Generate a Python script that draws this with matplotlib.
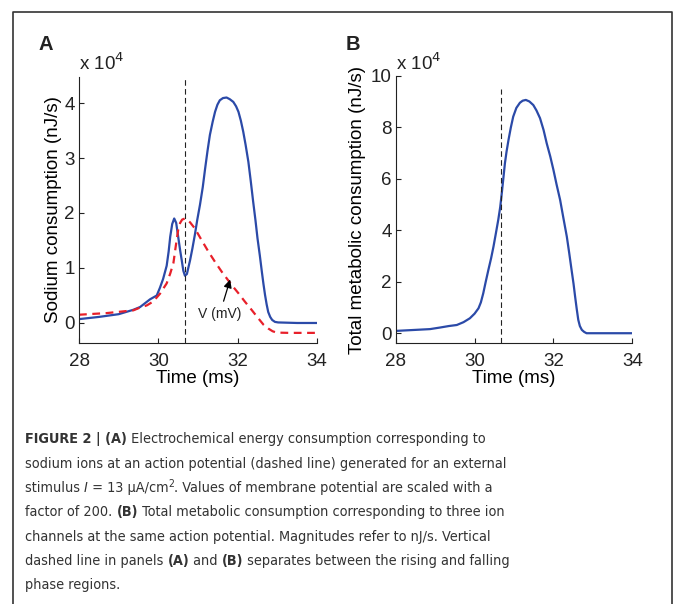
import numpy as np
import matplotlib.pyplot as plt
from matplotlib import font_manager as fm
from matplotlib.lines import Line2D

# --- data (consumption in units of 1e4 nJ/s) ---
t_na = [28.0, 28.5, 29.0, 29.37, 29.54, 29.79, 29.96, 30.04, 30.12, 30.21, 30.26,
        30.30, 30.35, 30.40, 30.45, 30.50, 30.55, 30.59, 30.63, 30.67, 30.72, 30.80,
        30.86, 30.92, 30.98, 31.05, 31.12, 31.18, 31.24, 31.30, 31.37, 31.43, 31.49,
        31.55, 31.63, 31.72, 31.80, 31.89, 31.96, 32.02, 32.08, 32.14, 32.20, 32.27,
        32.33, 32.39, 32.45, 32.50, 32.56, 32.61, 32.65, 32.69, 32.73, 32.77, 32.82,
        32.87, 32.94, 33.02, 33.5, 34.0]
na = [0.07, 0.11, 0.16, 0.24, 0.29, 0.43, 0.50, 0.64, 0.80, 1.04, 1.30,
      1.57, 1.80, 1.90, 1.82, 1.57, 1.32, 1.14, 0.95, 0.86, 0.89, 1.14,
      1.36, 1.60, 1.87, 2.15, 2.47, 2.81, 3.13, 3.42, 3.66, 3.84, 3.97,
      4.05, 4.09, 4.10, 4.07, 4.02, 3.94, 3.84, 3.68, 3.48, 3.24, 2.93,
      2.58, 2.21, 1.86, 1.54, 1.22, 0.93, 0.71, 0.51, 0.34, 0.20, 0.11,
      0.055, 0.02, 0.01, 0.0, 0.0]

t_v = [28.0, 28.7, 29.37, 29.54, 29.71, 29.87, 30.04, 30.21, 30.30, 30.38, 30.44,
       30.50, 30.55, 30.60, 30.67, 30.74, 30.80, 30.92, 31.08, 31.26, 31.43, 31.60,
       31.85, 32.02, 32.18, 32.35, 32.52, 32.65, 32.77, 32.88, 32.98, 33.3, 34.0]
v = [0.15, 0.18, 0.23, 0.28, 0.32, 0.39, 0.53, 0.72, 0.90, 1.09, 1.40,
     1.69, 1.82, 1.88, 1.90, 1.87, 1.83, 1.72, 1.52, 1.30, 1.11, 0.93,
     0.69, 0.54, 0.39, 0.24, 0.085, -0.03, -0.10, -0.15, -0.175, -0.18, -0.18]

t_tot = [28.0, 28.5, 28.87, 29.12, 29.35, 29.55, 29.72, 29.88, 30.00, 30.10, 30.16,
         30.22, 30.28, 30.35, 30.42, 30.48, 30.54, 30.60, 30.65, 30.69, 30.73, 30.77,
         30.81, 30.86, 30.92, 30.98, 31.06, 31.15, 31.22, 31.30, 31.39, 31.49, 31.57,
         31.66, 31.75, 31.83, 31.92, 32.00, 32.08, 32.17, 32.25, 32.34, 32.40, 32.46,
         32.51, 32.55, 32.59, 32.63, 32.67, 32.72, 32.78, 32.84, 33.0, 33.5, 34.0]
tot = [0.09, 0.13, 0.16, 0.22, 0.28, 0.32, 0.43, 0.58, 0.76, 0.97, 1.20,
       1.55, 1.98, 2.46, 2.92, 3.37, 3.88, 4.40, 4.90, 5.44, 6.02, 6.61,
       7.05, 7.51, 8.00, 8.42, 8.76, 8.96, 9.04, 9.07, 9.01, 8.87, 8.66,
       8.36, 7.90, 7.38, 6.87, 6.35, 5.78, 5.18, 4.50, 3.75, 3.12, 2.46,
       1.92, 1.42, 0.95, 0.52, 0.28, 0.13, 0.05, 0.0, 0.0, 0.0, 0.0]

t_split = 30.68     # rising / falling separation (ms)
split_top_b = 9.5   # top of the dashed line in panel B

xticks = [28, 30, 32, 34]
yticks_a = [0, 1, 2, 3, 4]
yticks_b = [0, 2, 4, 6, 8, 10]

BLUE = '#2b4aa8'
RED = '#e8202a'
INK = '#222222'

plt.rcParams['font.family'] = ['Liberation Sans', 'DejaVu Sans']
plt.rcParams['text.color'] = INK
plt.rcParams['axes.edgecolor'] = INK

W, H = 673, 604
fig = plt.figure(figsize=(W / 100, H / 100), dpi=100)


def fx(px):
    return px / W


def fy(py):
    return 1 - py / H


def style_axes(ax, yticks):
    for s in ('top', 'right'):
        ax.spines[s].set_visible(False)
    ax.set_xlim(28, 34)
    ax.set_xticks(xticks)
    ax.set_yticks(yticks)
    ax.tick_params(direction='in', length=3.5, width=0.8, labelsize=13.5, colors=INK)
    ax.tick_params(axis='x', pad=7)
    ax.tick_params(axis='y', pad=3)
    ax.set_xlabel('Time (ms)', fontsize=13.5, labelpad=0)


# panel A
axA = fig.add_axes([fx(79), fy(343), fx(317) - fx(79), fy(77) - fy(343)])
axA.plot(t_na, na, color=BLUE, lw=1.6, solid_joinstyle='round')
axA.plot(t_v, v, color=RED, lw=1.6, dashes=(3.5, 2.5))
axA.axvline(t_split, color=INK, lw=0.8, dashes=(5, 3))
axA.set_ylim(-0.364, 4.473)
style_axes(axA, yticks_a)
axA.set_ylabel('Sodium consumption (nJ/s)', fontsize=13.5, labelpad=2)
axA.annotate('V (mV)', xy=(31.81, 0.79), xytext=(31.55, 0.17),
             ha='center', va='center', fontsize=10, color=INK,
             arrowprops=dict(arrowstyle='-|>', color='black', lw=0.9,
                             mutation_scale=12, shrinkA=2, shrinkB=0))

# panel B
axB = fig.add_axes([fx(395.7), fy(343), fx(632.3) - fx(395.7), fy(76) - fy(343)])
axB.plot(t_tot, tot, color=BLUE, lw=1.6, solid_joinstyle='round')
axB.plot([t_split, t_split], [-0.38, split_top_b], color=INK, lw=0.8, dashes=(5, 3))
axB.set_ylim(-0.38, 10)
style_axes(axB, yticks_b)
axB.set_ylabel('Total metabolic consumption (nJ/s)', fontsize=13.5, labelpad=3.5)

# multiplier labels and panel letters
fig.text(fx(79), fy(70), r'x 10$^{4}$', fontsize=13.5, ha='left', va='baseline')
fig.text(fx(396), fy(70), r'x 10$^{4}$', fontsize=13.5, ha='left', va='baseline')
fig.text(fx(46), fy(44), 'A', fontsize=14.5, weight='bold', ha='center', va='center')
fig.text(fx(353), fy(44), 'B', fontsize=14.5, weight='bold', ha='center', va='center')

# frame around the figure (open at the bottom)
fig.add_artist(Line2D([fx(13), fx(13), fx(672), fx(672)], [0, fy(12), fy(12), 0],
                      transform=fig.transFigure, color='#333333', lw=1.2))

# caption: pick a narrow face if one is installed
entries = fm.fontManager.ttflist
if any(f.name == 'Liberation Sans Narrow' for f in entries):
    cap_family, cap_stretch = 'Liberation Sans Narrow', 'normal'
elif any(f.name == 'DejaVu Sans' and f.stretch == 'condensed' for f in entries):
    cap_family, cap_stretch = 'DejaVu Sans', 'condensed'
else:
    cap_family, cap_stretch = 'Liberation Sans', 'normal'

caption = [
    [('FIGURE 2 | (A)', 'bold', 'normal', 0),
     (' Electrochemical energy consumption corresponding to', 'normal', 'normal', 0)],
    [('sodium ions at an action potential (dashed line) generated for an external',
      'normal', 'normal', 0)],
    [('stimulus ', 'normal', 'normal', 0), ('I', 'normal', 'italic', 0),
     (' = 13 \u03bcA/cm', 'normal', 'normal', 0), ('2', 'normal', 'normal', 1),
     ('. Values of membrane potential are scaled with a', 'normal', 'normal', 0)],
    [('factor of 200. ', 'normal', 'normal', 0), ('(B)', 'bold', 'normal', 0),
     (' Total metabolic consumption corresponding to three ion', 'normal', 'normal', 0)],
    [('channels at the same action potential. Magnitudes refer to nJ/s. Vertical',
      'normal', 'normal', 0)],
    [('dashed line in panels ', 'normal', 'normal', 0), ('(A)', 'bold', 'normal', 0),
     (' and ', 'normal', 'normal', 0), ('(B)', 'bold', 'normal', 0),
     (' separates between the rising and falling', 'normal', 'normal', 0)],
    [('phase regions.', 'normal', 'normal', 0)],
]
baseline0, line_gap = 443.3, 24.3
renderer = fig.canvas.get_renderer()


def draw_line(runs, x, y, size):
    for txt, weight, fstyle, sup in runs:
        s = size * (0.72 if sup else 1)
        yy = y - (0.45 * size if sup else 0)
        t = fig.text(fx(x), fy(yy), txt, fontsize=s, weight=weight, style=fstyle,
                     family=cap_family, stretch=cap_stretch, ha='left',
                     va='baseline', color='#333333')
        x += t.get_window_extent(renderer=renderer).width
    return x


# size the caption so the first line spans the same width as in the figure
probe = fig.text(0, 0, 'FIGURE 2 | (A) Electrochemical energy consumption corresponding to',
                 fontsize=10, family=cap_family, stretch=cap_stretch)
cap_size = min(12.5, 10 * 450 / probe.get_window_extent(renderer=renderer).width)
probe.remove()

for i, runs in enumerate(caption):
    draw_line(runs, 25.0, baseline0 + i * line_gap, cap_size)

fig.savefig('out.png', dpi=100)
